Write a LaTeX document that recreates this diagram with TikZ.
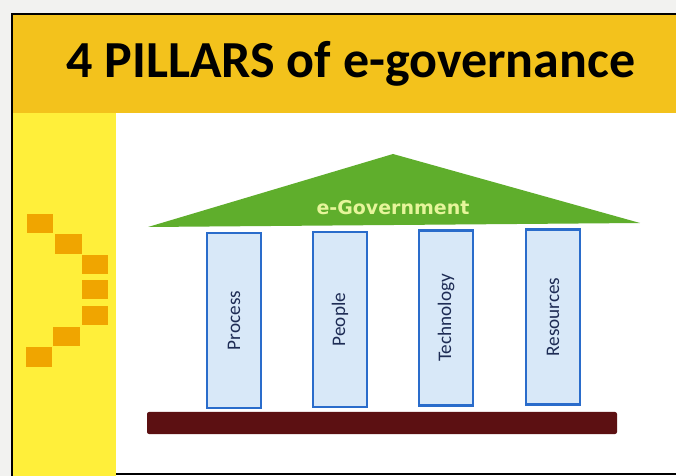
\documentclass[tikz,border=0pt]{standalone}
\usepackage{fontspec}
\setmainfont{Carlito}
\newfontfamily\roofont{DejaVu Sans}
\definecolor{bandY}{HTML}{F3C21C}
\definecolor{colY}{HTML}{FFEF3A}
\definecolor{sqO}{HTML}{F0A500}
\definecolor{roofG}{HTML}{5FAE2C}
\definecolor{roofT}{HTML}{E6F59A}
\definecolor{pilF}{HTML}{D8E8F8}
\definecolor{pilB}{HTML}{2A6CCB}
\definecolor{pilT}{HTML}{1E2C55}
\definecolor{baseR}{HTML}{5C1012}
\definecolor{outerW}{HTML}{F2F2F0}
\tikzset{
  sq/.style={fill=sqO, draw=none},
  pillar/.style={draw=pilB, line width=1.2pt, fill=pilF, minimum width=27pt, minimum height=87.5pt, inner sep=0pt},
  pillartext/.style={rotate=90, text=pilT, font=\fontsize{9.6}{11}\selectfont},
}
\begin{document}
\begin{tikzpicture}[x=0.5pt,y=-0.5pt]
\useasboundingbox (0,0) rectangle (676,476);
\fill[outerW] (0,0) rectangle (676,476);
% title band
\fill[bandY] (12,14) rectangle (676,113);
% left column
\fill[colY] (12,113) rectangle (116,476);
% white content
\fill[white] (116,113) rectangle (676,476);
% frame lines
\draw[black, line width=1.2pt] (12,476) -- (12,14) -- (676,14);
\draw[black, line width=1pt] (116,474) -- (676,474);
% title
\node[anchor=base, font=\fontsize{26}{30}\selectfont\bfseries] (title) at (351,78) {4 PILLARS of e-governance};
% squares
\fill[sq] (27,214) rectangle (53,233);
\fill[sq] (55,234) rectangle (82,254);
\fill[sq] (82,255) rectangle (108,274);
\fill[sq] (82,280) rectangle (108,299);
\fill[sq] (82,306) rectangle (108,325);
\fill[sq] (53,327) rectangle (80,346);
\fill[sq] (26,347) rectangle (52,367);
% roof
\fill[roofG] (148,227) -- (393,154) -- (640,223) -- cycle;
\node[font=\roofont\bfseries\fontsize{9.5}{11}\selectfont, text=roofT] (roof) at (393,208) {e-Government};
% pillars
\node[pillar] (p1) at (234,320.5) {};
\node[pillar] (p2) at (340,319.5) {};
\node[pillar] (p3) at (446,318) {};
\node[pillar] (p4) at (553,317) {};
\node[pillartext] at (p1) {Process};
\node[pillartext] at (p2) {People};
\node[pillartext] at (p3) {Technology};
\node[pillartext] at (p4) {Resources};
% base
\fill[baseR, rounded corners=1pt] (147,412) rectangle (617,434);
\end{tikzpicture}
\end{document}
